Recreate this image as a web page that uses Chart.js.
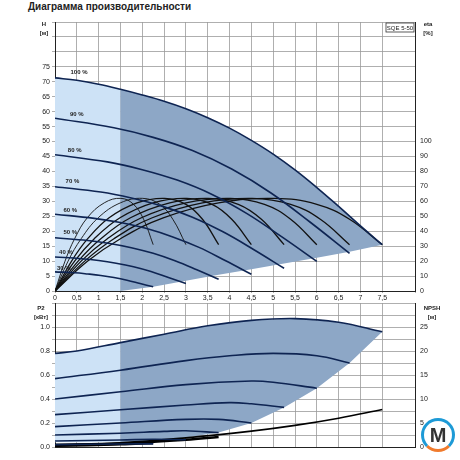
<!DOCTYPE html>
<html><head><meta charset="utf-8">
<script src="https://cdn.jsdelivr.net/npm/chart.js@4"></script>
<style>
body{margin:0;background:#fff;width:460px;height:460px;position:relative;overflow:hidden;font-family:"Liberation Sans",Arial,sans-serif}
#title{position:absolute;left:28px;top:1px;font-size:10px;font-weight:bold;color:#222}
#cTop{position:absolute;left:0;top:0}
#cBot{position:absolute;left:0;top:295px}
#logo{position:absolute;left:421px;top:418px;width:34px;height:34px;border-radius:50%;border:3px solid #1d9ad6;border-bottom-color:#f07b2d;box-sizing:border-box;font:bold 20px "Liberation Sans";color:#333;text-align:center;line-height:28px}
</style></head><body>
<div id="title">Диаграмма производительности</div>
<canvas id="cTop" width="460" height="302"></canvas>
<canvas id="cBot" width="460" height="165"></canvas>
<div id="logo">M</div>
<script>
// ---- head curves H [m] per speed ----
const q100 = [0,0.5,1,1.5,2,2.5,3,3.5,4,4.5,5,5.5,6,6.5,7,7.5];
const h100 = [71.3,70.5,69.2,67.5,65.6,63.5,61,58,54.5,50.4,45.8,40.5,34.6,28.3,21.8,15.5];
const q90 = [0,1.35,2.25,3.15,4.05,4.95,5.85,6.75];
const h90 = [57.8,54.6,51.4,47.0,40.8,32.8,23.0,12.6];
const q80 = [0,1.2,2.0,2.8,3.6,4.4,5.2,6.0];
const h80 = [45.6,43.2,40.6,37.1,32.3,25.9,18.1,9.9];
const q70 = [0,1.05,1.75,2.45,3.15,3.85,4.55,5.25];
const h70 = [34.9,33.1,31.1,28.4,24.7,19.8,13.9,7.6];
const q60 = [0,0.9,1.5,2.1,2.7,3.3,3.9,4.5];
const h60 = [25.7,24.3,22.9,20.9,18.1,14.6,10.2,5.6];
const q50 = [0,0.75,1.25,1.75,2.25,2.75,3.25,3.75];
const h50 = [17.8,16.9,15.9,14.5,12.6,10.1,7.1,3.9];
const q40 = [0,0.6,1.0,1.4,1.8,2.2,2.6,3.0];
const h40 = [11.4,10.8,10.2,9.3,8.1,6.5,4.5,2.5];
const q30 = [0,0.45,0.75,1.05,1.35,1.65,1.95,2.25];
const h30 = [6.4,6.1,5.7,5.2,4.5,3.6,2.5,1.4];
const speedLabels = ['100 %','90 %','80 %','70 %','60 %','50 %','40 %','30 %'];
const labelQ = [0.55,0.5,0.45,0.4,0.35,0.35,0.25,0.2];
const labelH = [72.5,58.5,46.5,36,26.5,19,12.5,7];
// lower edge of the operating area
const edgeQ = [7.5,6.75,6.0,5.25,4.5,3.75,3.0,2.25,1.5];
const edgeH = [15.5,13.1,11.1,9.2,7.3,5.4,3.4,1.4,0];
// efficiency curves (in H-axis units, eta = 2*H)
const etaH = [0,10,17.5,24.5,29.5,31,29,24,15.5];
const etaQ = [
  [0,0.23,0.45,0.74,1.13,1.51,1.8,2.03,2.25],
  [0,0.3,0.6,0.99,1.5,2.01,2.4,2.7,3.0],
  [0,0.38,0.75,1.24,1.88,2.51,3.0,3.38,3.75],
  [0,0.45,0.9,1.49,2.25,3.02,3.6,4.05,4.5],
  [0,0.53,1.05,1.73,2.63,3.52,4.2,4.73,5.25],
  [0,0.6,1.2,1.98,3.0,4.02,4.8,5.4,6.0],
  [0,0.68,1.35,2.23,3.38,4.52,5.4,6.08,6.75],
  [0,0.75,1.5,2.48,3.75,5.03,6.0,6.75,7.5]
];
// ---- power P2 [kW] per speed ----
const pq100 = [0,0.5,1.5,2.5,3.5,4.5,5.5,6.5,7.5];
const p100 = [0.78,0.8,0.87,0.94,1.01,1.055,1.07,1.04,0.96];
const pq90 = [0,1.5,3,4,5,6,6.75];
const p90 = [0.57,0.64,0.72,0.76,0.78,0.76,0.70];
const pq80 = [0,1.5,3,4.5,5,6];
const p80 = [0.4,0.46,0.52,0.55,0.54,0.49];
const pq70 = [0,1.5,3,4,4.5,5.25];
const p70 = [0.27,0.31,0.35,0.37,0.36,0.33];
const pq60 = [0,1.5,3,3.75,4.5];
const p60 = [0.17,0.2,0.23,0.23,0.2];
const pq50 = [0,1.5,2.5,3,3.75];
const p50 = [0.1,0.115,0.13,0.135,0.12];
const pq40 = [0,1.5,2.25,3];
const p40 = [0.05,0.058,0.065,0.06];
const pq30 = [0,1.5,2.25];
const p30 = [0.02,0.025,0.026];
const pEdgeQ = [7.5,6.75,6.0,5.25,4.5,3.75,3.0,2.25,1.5];
const pEdgeP = [0.96,0.70,0.49,0.33,0.2,0.12,0.08,0.055,0.04];
// NPSH [m] curves drawn on the P2 scale (NPSH = 25 * P2)
const nq1 = [0,1.5,3,4.5,5.5,6.5,7.5];
const n1 = [0.5,0.9,1.9,3.3,4.5,6.0,7.8];
const nq2 = [0,1.5,3,3.75];
const n2 = [0.4,0.7,1.5,2.1];
const nq3 = [0,1.5,2.25];
const n3 = [0.3,0.6,0.9];

const xy = (qs, vs) => qs.map((q, i) => ({ x: q, y: vs[i] }));
const NAVY = '#0e2452';
const LIGHT = '#cde2f6';
const DARK = '#8da7c6';
const FONT = { family: '"Liberation Sans", Arial', size: 7 };
const comma = (v) => String(v).replace('.', ',');

function fitW(w) { return (s) => { s.width = w; }; }
function fitH(h) { return (s) => { s.height = h; }; }

function lineDs(data, color, width, order) {
  return { data, borderColor: color, borderWidth: width, pointRadius: 0, tension: 0.4, fill: false, order: order || 1 };
}

function cut(qs, vs, from) {
  const o = [];
  qs.forEach((q, i) => { if (q >= from) o.push({ x: q, y: vs[i] }); });
  return o;
}

// top chart
const hq = [q100,q90,q80,q70,q60,q50,q40,q30];
const hv = [h100,h90,h80,h70,h60,h50,h40,h30];
const topSets = [];
topSets.push({ data: [...xy(q100.filter(q => q <= 1.5), h100), { x: 1.5, y: 0 }, { x: 0, y: 0 }],
  backgroundColor: LIGHT, borderWidth: 0, pointRadius: 0, tension: 0, fill: 'shape', order: 20 });
topSets.push({ data: [...cut(q100, h100, 1.5), ...xy(edgeQ, edgeH)],
  backgroundColor: DARK, borderWidth: 0, pointRadius: 0, tension: 0, fill: 'shape', order: 19 });
hq.forEach((q, i) => topSets.push(lineDs(xy(q, hv[i]), NAVY, 1.6)));
etaQ.forEach((q, i) => topSets.push(lineDs(xy(q, etaH), '#111', i < 2 ? 0.9 : 1.3)));

const topLabels = {
  id: 'topLabels',
  afterDatasetsDraw(chart) {
    const { ctx, scales: { x, y } } = chart;
    ctx.save();
    ctx.font = 'bold 6px "Liberation Sans"';
    ctx.fillStyle = '#222';
    ctx.textAlign = 'center';
    speedLabels.forEach((t, i) => ctx.fillText(t, x.getPixelForValue(labelQ[i]), y.getPixelForValue(labelH[i])));
    ctx.fillText('H', 44, 26); ctx.fillText('[м]', 44, 35);
    ctx.fillText('eta', 428, 26); ctx.fillText('[%]', 428, 35);
    ctx.fillStyle = '#fff'; ctx.fillRect(386, 23, 28, 9);
    ctx.strokeStyle = '#333'; ctx.lineWidth = 0.8; ctx.strokeRect(386, 23, 28, 9);
    ctx.fillStyle = '#222'; ctx.font = '6px "Liberation Sans"';
    ctx.fillText('SQE 5-50', 400, 30);
    ctx.restore();
  }
};

new Chart(document.getElementById('cTop'), {
  type: 'line',
  data: { datasets: topSets },
  plugins: [topLabels],
  options: {
    responsive: false, animation: false, events: [],
    layout: { padding: { top: 22, left: 0, right: 0, bottom: 0 } },
    plugins: { legend: { display: false }, tooltip: { enabled: false } },
    scales: {
      x: { type: 'linear', min: 0, max: 8.25, afterFit: fitH(11),
        ticks: { stepSize: 0.5, autoSkip: false, maxRotation: 0, font: FONT, color: '#222', padding: 1,
          callback: (v) => v === 8 ? 'Q [м³/ч]' : (v > 7.5 ? '' : comma(v)) },
        grid: { color: '#9a9a9a', lineWidth: 0.8, tickLength: 2 }, border: { color: '#222' } },
      y: { min: 0, max: 90, afterFit: fitW(55),
        ticks: { stepSize: 5, font: FONT, color: '#222', padding: 2, callback: (v) => v <= 75 ? v : '' },
        grid: { color: '#9a9a9a', lineWidth: 0.8, tickLength: 3 }, border: { color: '#222' } },
      y2: { position: 'right', min: 0, max: 180, afterFit: fitW(45),
        ticks: { stepSize: 10, font: FONT, color: '#222', padding: 2, callback: (v) => v <= 100 ? v : '' },
        grid: { display: false, tickLength: 3 }, border: { color: '#222' } }
    }
  }
});

// bottom chart
const pq = [pq100,pq90,pq80,pq70,pq60,pq50,pq40,pq30];
const pv = [p100,p90,p80,p70,p60,p50,p40,p30];
const botSets = [];
botSets.push({ data: [...xy([0,0.5,1.5], p100), { x: 1.5, y: 0.04 }, { x: 0, y: 0.04 }],
  backgroundColor: LIGHT, borderWidth: 0, pointRadius: 0, tension: 0, fill: 'shape', order: 20 });
botSets.push({ data: [...cut(pq100, p100, 1.5), ...xy(pEdgeQ, pEdgeP)],
  backgroundColor: DARK, borderWidth: 0, pointRadius: 0, tension: 0, fill: 'shape', order: 19 });
pq.forEach((q, i) => botSets.push(lineDs(xy(q, pv[i]), NAVY, 1.6)));
[[nq1, n1, 1.6], [nq2, n2, 2.5], [nq3, n3, 3]].forEach(([q, n, w]) =>
  botSets.push({ ...lineDs(xy(q, n), '#000', w), yAxisID: 'y2' }));

const botLabels = {
  id: 'botLabels',
  afterDraw(chart) {
    const { ctx } = chart;
    ctx.save();
    ctx.font = 'bold 6px "Liberation Sans"';
    ctx.fillStyle = '#222'; ctx.textAlign = 'center';
    ctx.fillText('P2', 41, 15); ctx.fillText('[кВт]', 41, 24);
    ctx.fillText('NPSH', 432, 15); ctx.fillText('[м]', 432, 24);
    ctx.restore();
  }
};

new Chart(document.getElementById('cBot'), {
  type: 'line',
  data: { datasets: botSets },
  plugins: [botLabels],
  options: {
    responsive: false, animation: false, events: [],
    layout: { padding: { top: 8 } },
    plugins: { legend: { display: false }, tooltip: { enabled: false } },
    scales: {
      x: { type: 'linear', min: 0, max: 8.25, afterFit: fitH(13),
        ticks: { stepSize: 0.5, display: false },
        grid: { color: '#9a9a9a', lineWidth: 0.8, tickLength: 0 }, border: { color: '#222' } },
      y: { min: 0, max: 1.2, afterFit: fitW(55),
        ticks: { stepSize: 0.1, font: FONT, color: '#222', padding: 2,
          callback: (v) => { const r = Math.round(v * 10); return r % 2 === 0 && r <= 10 ? (r / 10).toFixed(1) : ''; } },
        grid: { color: '#9a9a9a', lineWidth: 0.8, tickLength: 3 }, border: { color: '#222' } },
      y2: { position: 'right', min: 0, max: 30, afterFit: fitW(45),
        ticks: { stepSize: 5, font: FONT, color: '#222', padding: 2, callback: (v) => v <= 25 ? v : '' },
        grid: { display: false, tickLength: 3 }, border: { color: '#222' } }
    }
  }
});
</script>
</body></html>
